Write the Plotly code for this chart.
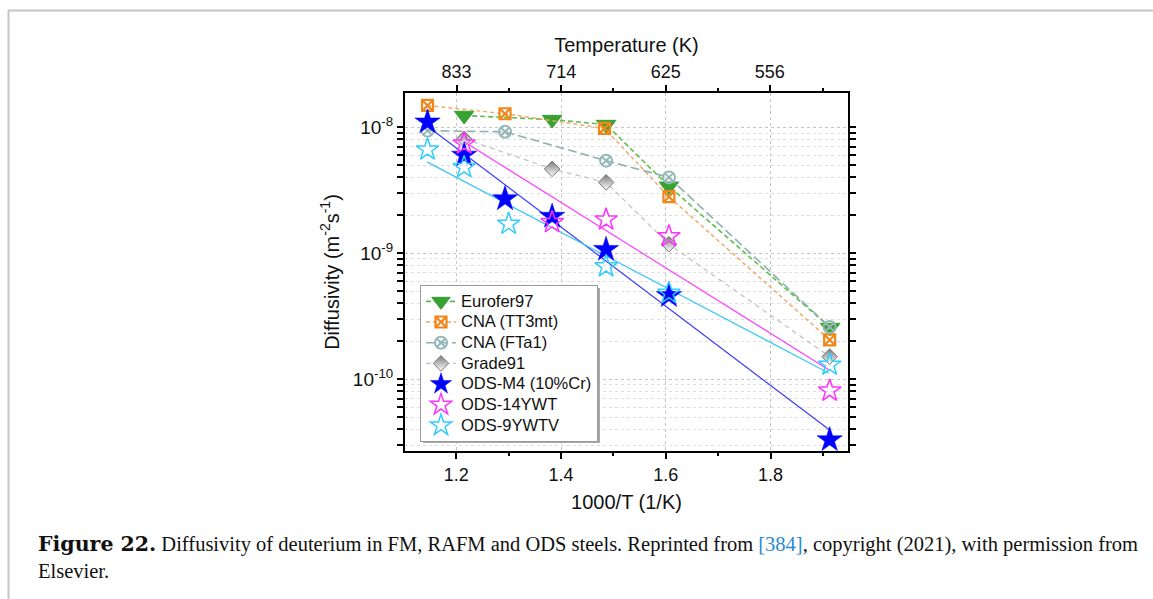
import plotly.graph_objects as go

# ---------------- data ----------------
eurofer_x = [1.215, 1.383, 1.486, 1.606, 1.914]
eurofer_d = [1.24e-8, 1.15e-8, 1.05e-8, 3.4e-9, 2.57e-10]

tt3mt_x = [1.145, 1.293, 1.483, 1.606, 1.913]
tt3mt_d = [1.49e-8, 1.28e-8, 9.8e-9, 2.81e-9, 2.05e-10]

fta1_x = [1.145, 1.293, 1.486, 1.606, 1.913]
fta1_d = [9.4e-9, 9.2e-9, 5.43e-9, 4.0e-9, 2.6e-10]

grade91_x = [1.215, 1.383, 1.486, 1.606, 1.913]
grade91_d = [8.09e-9, 4.67e-9, 3.65e-9, 1.18e-9, 1.51e-10]

m4_x = [1.145, 1.215, 1.293, 1.383, 1.486, 1.606, 1.913]
m4_d = [1.10e-8, 5.99e-9, 2.70e-9, 1.96e-9, 1.07e-9, 4.6e-10, 3.3e-11]
m4_fit_x = [1.145, 1.913]
m4_fit_d = [1.02e-8, 3.95e-11]

ywt14_x = [1.215, 1.383, 1.486, 1.606, 1.913]
ywt14_d = [7.42e-9, 1.76e-9, 1.85e-9, 1.36e-9, 8.1e-11]
ywt14_fit_x = [1.215, 1.911]
ywt14_fit_d = [7.66e-9, 1.19e-10]

ywtv9_x = [1.145, 1.215, 1.300, 1.486, 1.606, 1.913]
ywtv9_d = [6.65e-9, 4.81e-9, 1.71e-9, 7.85e-10, 4.83e-10, 1.30e-10]
ywtv9_fit_x = [1.144, 1.911]
ywtv9_fit_d = [5.31e-9, 1.12e-10]

series_names = ["Eurofer97", "CNA (TT3mt)", "CNA (FTa1)", "Grade91",
                "ODS-M4 (10%Cr)", "ODS-14YWT", "ODS-9YWTV"]

bottom_ticks = [1.2, 1.4, 1.6, 1.8]
top_temps = [833, 714, 625, 556]
y_major = [1e-10, 1e-9, 1e-8]
y_major_text = ["10<sup>-10</sup>", "10<sup>-9</sup>", "10<sup>-8</sup>"]

# ---------------- layout geometry ----------------
W, H = 1153, 599
L, R, T, B = 405, 848, 93, 451


def px2x(px):
    return (px - L) / (R - L)


def py2y(py):
    return (B - py) / (B - T)


def legname(s):
    return f"<span style='font-size:16.5px'>{s}</span>"


FONT = "Liberation Sans, Arial, sans-serif"
SERIF = "Liberation Serif, Times New Roman, serif"

fig = go.Figure()

fig.add_trace(go.Scatter(
    x=eurofer_x, y=eurofer_d, name=legname(series_names[0]), mode="lines+markers",
    line=dict(color="#5cbf4a", width=1.6, dash="5px,3px"),
    marker=dict(symbol="triangle-down", size=17, color="#37a232",
                line=dict(color="#37a232", width=1))))

fig.add_trace(go.Scatter(
    x=tt3mt_x, y=tt3mt_d, name=legname(series_names[1]), mode="lines+markers",
    line=dict(color="#f5a462", width=1.4, dash="4px,3px"),
    marker=dict(symbol="square-x-open", size=11, color="#f0871a",
                line=dict(color="#f0871a", width=2.2))))

fig.add_trace(go.Scatter(
    x=fta1_x, y=fta1_d, name=legname(series_names[2]), mode="lines+markers",
    line=dict(color="#8fb0b0", width=1.6, dash="9px,4px"),
    marker=dict(symbol="circle-x-open", size=12, color="#94b8b8",
                line=dict(color="#94b8b8", width=2))))

fig.add_trace(go.Scatter(
    x=grade91_x, y=grade91_d, name=legname(series_names[3]), mode="lines+markers",
    line=dict(color="#c4c4c4", width=1.3, dash="5px,4px"),
    marker=dict(symbol="diamond", size=12, color="#7a7a7a",
                gradient=dict(type="vertical", color="#ffffff"),
                line=dict(color="#7a7a7a", width=1))))

# fitted lines (no legend)
fig.add_trace(go.Scatter(
    x=m4_fit_x, y=m4_fit_d, mode="lines", showlegend=False, hoverinfo="skip",
    line=dict(color="#3a3aff", width=1.2)))
fig.add_trace(go.Scatter(
    x=ywt14_fit_x, y=ywt14_fit_d, mode="lines", showlegend=False, hoverinfo="skip",
    line=dict(color="#ff40ff", width=1.2)))
fig.add_trace(go.Scatter(
    x=ywtv9_fit_x, y=ywtv9_fit_d, mode="lines", showlegend=False, hoverinfo="skip",
    line=dict(color="#3cc8f5", width=1.2)))

fig.add_trace(go.Scatter(
    x=m4_x, y=m4_d, name=legname(series_names[4]), mode="markers",
    marker=dict(symbol="star", size=19, color="#0000ff",
                line=dict(color="#0000ff", width=0.5))))
fig.add_trace(go.Scatter(
    x=ywt14_x, y=ywt14_d, name=legname(series_names[5]), mode="markers",
    marker=dict(symbol="star-open", size=17, color="#ff33ff",
                line=dict(color="#ff33ff", width=1.5))))
fig.add_trace(go.Scatter(
    x=ywtv9_x, y=ywtv9_d, name=legname(series_names[6]), mode="markers",
    marker=dict(symbol="star-open", size=17, color="#33ccff",
                line=dict(color="#33ccff", width=1.5))))

# invisible trace to activate the top axis
fig.add_trace(go.Scatter(
    x=[bottom_ticks[0]], y=[y_major[1]], xaxis="x2", mode="markers",
    marker=dict(opacity=0), showlegend=False, hoverinfo="skip"))

xrange = [1.102, 1.948]
yrange = [-10.57, -7.728]

grid_major = "#c4c4c4"
grid_minor = "#dedede"

LEG_TOP = 285

fig.update_layout(
    width=W, height=H,
    margin=dict(l=L, r=W - R, t=T, b=H - B, pad=0),
    paper_bgcolor="white", plot_bgcolor="white",
    font=dict(family=FONT, color="#111111"),
    showlegend=True,
    legend=dict(
        x=px2x(420), y=py2y(LEG_TOP), xanchor="left", yanchor="top",
        bgcolor="white", bordercolor="#9a9a9a", borderwidth=1,
        font=dict(family=FONT, size=13.6, color="#111111"),
        itemwidth=30, tracegroupgap=0,
    ),
    xaxis=dict(
        range=xrange, tickmode="array", tickvals=bottom_ticks,
        ticktext=[f"{v:.1f}" for v in bottom_ticks],
        ticks="outside", ticklen=6, tickwidth=1.5, tickcolor="black",
        showline=True, linewidth=2, linecolor="black", mirror=False,
        showgrid=True, gridcolor=grid_major, griddash="dot", gridwidth=1,
        zeroline=False,
        minor=dict(tickvals=[1.3, 1.5, 1.7, 1.9], ticks="outside", ticklen=3,
                   tickcolor="black", showgrid=False),
        tickfont=dict(size=18, family=FONT),
        title=dict(text="1000/T (1/K)", font=dict(size=20, family=FONT), standoff=11),
    ),
    xaxis2=dict(
        overlaying="x", side="top", anchor="y", range=xrange,
        tickmode="array", tickvals=[1000 / t for t in top_temps],
        ticktext=[str(t) for t in top_temps],
        ticks="outside", ticklen=6, tickwidth=1.5, tickcolor="black",
        showline=True, linewidth=2, linecolor="black",
        showgrid=False, zeroline=False,
        minor=dict(tickvals=[1.3, 1.5, 1.7, 1.9], ticks="outside", ticklen=3,
                   tickcolor="black", showgrid=False),
        tickfont=dict(size=18, family=FONT),
        title=dict(text="Temperature (K)", font=dict(size=20, family=FONT), standoff=4),
    ),
    yaxis=dict(
        type="log", range=yrange, tickmode="array", tickvals=y_major,
        ticktext=y_major_text,
        ticks="outside", ticklen=6, tickwidth=1.5, tickcolor="black",
        showline=True, linewidth=2, linecolor="black", mirror="allticks",
        showgrid=True, gridcolor=grid_major, griddash="dot", gridwidth=1,
        zeroline=False,
        minor=dict(tickvals=[k * 10.0 ** e for e in (-11, -10, -9, -8) for k in range(2, 10)],
                   ticks="outside", ticklen=3, tickcolor="black",
                   showgrid=True, gridcolor=grid_minor, griddash="dot", gridwidth=1),
        tickfont=dict(size=19, family=FONT),
        title=dict(text="Diffusivity (m<sup>-2</sup>s<sup>-1</sup>)",
                   font=dict(size=20, family=FONT), standoff=8),
    ),
)

# legend shadow
fig.add_shape(type="rect", xref="paper", yref="paper",
              x0=px2x(423), x1=px2x(600), y0=py2y(LEG_TOP + 158), y1=py2y(LEG_TOP + 3),
              fillcolor="#a8a8a8", line=dict(width=0), layer="above")

# outer frame lines (page decoration)
fig.add_shape(type="line", xref="paper", yref="paper",
              x0=px2x(8), x1=px2x(1153), y0=py2y(10.5), y1=py2y(10.5),
              line=dict(color="#c6c6c6", width=2))
fig.add_shape(type="line", xref="paper", yref="paper",
              x0=px2x(8.5), x1=px2x(8.5), y0=py2y(10), y1=py2y(599),
              line=dict(color="#c6c6c6", width=2))

# caption
fig.add_annotation(
    xref="paper", yref="paper", x=px2x(36), y=py2y(544), xanchor="left", yanchor="middle",
    showarrow=False, align="left",
    text=("<span style='font-family:DejaVu Serif;font-weight:bold'>Figure 22.</span> "
          "Diffusivity of deuterium in FM, RAFM and ODS steels. "
          "Reprinted from <span style='color:#2a8ccf'>[384]</span>, copyright (2021), "
          "with permission from"),
    font=dict(family=SERIF, size=20.5, color="#111111"))
fig.add_annotation(
    xref="paper", yref="paper", x=px2x(36), y=py2y(571), xanchor="left", yanchor="middle",
    showarrow=False, align="left", text="Elsevier.",
    font=dict(family=SERIF, size=20.5, color="#111111"))

fig.write_html("out.html")
